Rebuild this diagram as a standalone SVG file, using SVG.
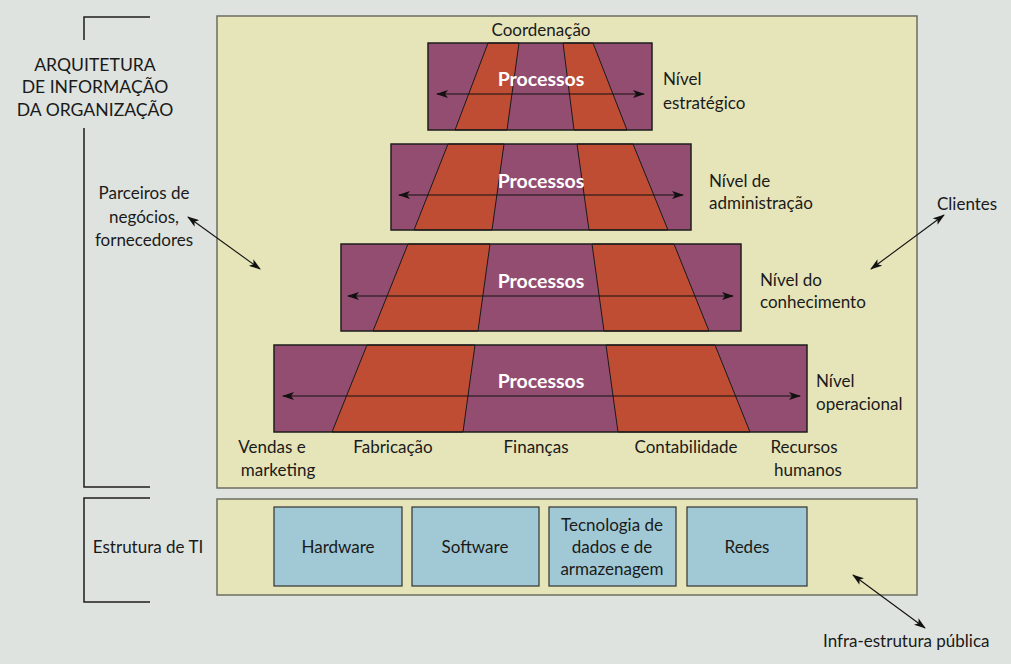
<svg xmlns="http://www.w3.org/2000/svg" width="1011" height="664" viewBox="0 0 1011 664">
<style>
  text { font-family: Lato, "Open Sans", "Liberation Sans", sans-serif; font-size: 17px; fill: #1a1a1a; }
  .c { text-anchor: middle; }
  .proc { font-weight: bold; fill: #ffffff; font-size: 19.5px; text-anchor: middle; }
  .panel { fill: #e6e4b9; stroke: #6e6e60; stroke-width: 1.5; }
  .layer { fill: #934d71; }
  .frame { fill: none; stroke: #1e1e1e; stroke-width: 1.5; }
  .stripe { fill: #bf4d34; stroke: #1a1a1a; stroke-width: 1; }
  .box { fill: #a1c9d5; stroke: #333; stroke-width: 1.2; }
  .br { fill: none; stroke: #1e1e1e; stroke-width: 1.5; }
  .arr { fill: none; stroke: #111; stroke-width: 1.1; marker-start: url(#ah); marker-end: url(#ah); }
</style>
<defs>
  <marker id="ah" viewBox="0 0 12 8" refX="11" refY="4" markerWidth="12" markerHeight="8" markerUnits="userSpaceOnUse" orient="auto-start-reverse">
    <path d="M0,0 L12,4 L0,8 L3,4 Z" fill="#111"/>
  </marker>
</defs>
<rect width="1011" height="664" fill="#dee3df"/>

<g id="brackets">
  <path class="br" d="M150,17 H84 V40 M84,128 V487 H150"/>
  <path class="br" d="M150,498 H84 V602 H150"/>
</g>

<g id="panel-main"><rect class="panel" x="217" y="16" width="700" height="472"/></g>
<g id="panel-ti"><rect class="panel" x="217" y="499" width="700" height="96"/></g>

<g id="label-arquitetura">
  <text class="c" x="95" y="71" style="font-size:17.6px">ARQUITETURA</text>
  <text class="c" x="95" y="93" style="font-size:17.6px">DE INFORMAÇÃO</text>
  <text class="c" x="95" y="116" style="font-size:17.6px">DA ORGANIZAÇÃO</text>
</g>

<g id="label-coordenacao"><text class="c" x="541" y="36">Coordenação</text></g>

<g id="layer-estrategico">
  <rect class="layer" x="428" y="43" width="224" height="87"/>
  <polygon class="stripe" points="488,43 519,43 507,130 455,130"/>
  <polygon class="stripe" points="563,43 593,43 627,130 574,130"/>
  <rect class="frame" x="428" y="43" width="224" height="87"/>
  <text class="proc" x="541" y="86">Processos</text>
  <text x="663" y="85">Nível</text>
  <text x="663" y="109">estratégico</text>
</g>

<g id="layer-administracao">
  <rect class="layer" x="391" y="144" width="300" height="86"/>
  <polygon class="stripe" points="448,144 504,144 492,230 414,230"/>
  <polygon class="stripe" points="577,144 633,144 668,230 589,230"/>
  <rect class="frame" x="391" y="144" width="300" height="86"/>
  <text class="proc" x="541" y="188">Processos</text>
  <text x="709" y="187">Nível de</text>
  <text x="709" y="209">administração</text>
</g>

<g id="layer-conhecimento">
  <rect class="layer" x="341" y="244" width="400" height="87"/>
  <polygon class="stripe" points="408,244 490,244 478,331 373,331"/>
  <polygon class="stripe" points="592,244 674,244 709,331 604,331"/>
  <rect class="frame" x="341" y="244" width="400" height="87"/>
  <text class="proc" x="541" y="288">Processos</text>
  <text x="760" y="286">Nível do</text>
  <text x="760" y="308">conhecimento</text>
</g>

<g id="layer-operacional">
  <rect class="layer" x="274" y="345" width="533" height="87"/>
  <polygon class="stripe" points="367,345 475,345 463,432 332,432"/>
  <polygon class="stripe" points="606,345 715,345 750,432 618,432"/>
  <rect class="frame" x="274" y="345" width="533" height="87"/>
  <text class="proc" x="541" y="388">Processos</text>
  <text x="816" y="387">Nível</text>
  <text x="816" y="410">operacional</text>
</g>

<g id="functions">
  <text class="c" x="272" y="453">Vendas e</text>
  <text class="c" x="278" y="476">marketing</text>
  <text class="c" x="393" y="453">Fabricação</text>
  <text class="c" x="536" y="453">Finanças</text>
  <text class="c" x="686" y="453">Contabilidade</text>
  <text class="c" x="804" y="453">Recursos</text>
  <text class="c" x="808" y="476">humanos</text>
</g>

<g id="label-parceiros">
  <text class="c" x="144" y="199">Parceiros de</text>
  <text class="c" x="144" y="223">negócios,</text>
  <text class="c" x="144" y="246">fornecedores</text>
</g>
<g id="label-clientes"><text x="937" y="210">Clientes</text></g>
<g id="label-ti"><text class="c" x="148" y="553">Estrutura de TI</text></g>
<g id="label-infra"><text x="823" y="647">Infra-estrutura pública</text></g>

<g id="box-hardware"><rect class="box" x="274" y="507" width="128" height="79"/><text class="c" x="338" y="553">Hardware</text></g>
<g id="box-software"><rect class="box" x="412" y="507" width="127" height="79"/><text class="c" x="475" y="553">Software</text></g>
<g id="box-dados"><rect class="box" x="549" y="507" width="127" height="79"/>
  <text class="c" x="612" y="531">Tecnologia de</text>
  <text class="c" x="612" y="553">dados e de</text>
  <text class="c" x="612" y="575">armazenagem</text>
</g>
<g id="box-redes"><rect class="box" x="687" y="507" width="120" height="79"/><text class="c" x="747" y="553">Redes</text></g>

<g id="connectors">
  <line class="arr" x1="437" y1="94" x2="644" y2="94"/>
  <line class="arr" x1="399" y1="195" x2="683" y2="195"/>
  <line class="arr" x1="348" y1="296" x2="733" y2="296"/>
  <line class="arr" x1="283" y1="396" x2="800" y2="396"/>
  <line class="arr" x1="188" y1="217" x2="260" y2="269"/>
  <line class="arr" x1="944" y1="215" x2="871" y2="269"/>
  <line class="arr" x1="853" y1="575" x2="925" y2="628"/>
</g>
</svg>
